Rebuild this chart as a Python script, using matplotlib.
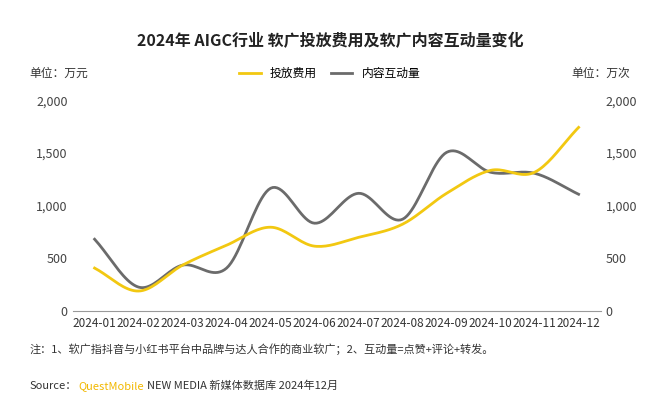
import numpy as np
import matplotlib
matplotlib.use("Agg")
import matplotlib.pyplot as plt

plt.rcParams['font.family'] = ['Noto Sans CJK SC', 'DejaVu Sans']

months = ["2024-01","2024-02","2024-03","2024-04","2024-05","2024-06",
          "2024-07","2024-08","2024-09","2024-10","2024-11","2024-12"]
spend = [408, 190, 436, 625, 796, 616, 700, 825, 1118, 1336, 1318, 1744]
interact = [682, 227, 436, 408, 1166, 834, 1118, 872, 1507, 1318, 1308, 1109]

def smooth(y, n=20):
    y = np.asarray(y, float)
    x = np.arange(len(y))
    m = np.gradient(y)
    xs, ys = [], []
    for i in range(len(y) - 1):
        t = np.linspace(0, 1, n, endpoint=False)
        h00 = 2*t**3 - 3*t**2 + 1; h10 = t**3 - 2*t**2 + t
        h01 = -2*t**3 + 3*t**2; h11 = t**3 - t**2
        xs.append(x[i] + t)
        ys.append(h00*y[i] + h10*m[i] + h01*y[i+1] + h11*m[i+1])
    xs.append([x[-1]]); ys.append([y[-1]])
    return np.concatenate(xs), np.concatenate(ys)

fig = plt.figure(figsize=(6.6, 4.05), dpi=100)
ax = fig.add_axes([0.11, 0.232, 0.80, 0.52])
ax2 = ax.twinx()
x1, y1 = smooth(spend)
x2, y2 = smooth(interact)
ax.plot(x2, y2, color='#6b6b6b', lw=2, label='内容互动量')
ax.plot(x1, y1, color='#f2c811', lw=2, label='投放费用')
for a in (ax, ax2):
    a.set_ylim(0, 2000)
    a.set_yticks([0, 500, 1000, 1500, 2000])
    a.set_yticklabels(['0', '500', '1,000', '1,500', '2,000'], fontsize=9, color='#444')
    a.tick_params(length=0)
    for s in a.spines.values():
        s.set_visible(False)
ax.spines['bottom'].set_visible(True); ax.spines['bottom'].set_color('#999')
ax.set_xlim(-0.5, 11.5)
ax.set_xticks(range(12)); ax.set_xticklabels(months, fontsize=8.5, color='#333')
ax.tick_params(axis='x', pad=4)

fig.text(0.5, 0.885, '2024年 AIGC行业 软广投放费用及软广内容互动量变化', ha='center', fontsize=11.5, weight='bold', color='#222')
fig.text(0.045, 0.81, '单位：万元', fontsize=8.5, color='#333')
fig.text(0.955, 0.81, '单位：万次', fontsize=8.5, color='#333', ha='right')
from matplotlib.lines import Line2D
h = [Line2D([], [], color='#f2c811', lw=2), Line2D([], [], color='#6b6b6b', lw=2)]
fig.legend(h, ['投放费用', '内容互动量'], loc='center', bbox_to_anchor=(0.5, 0.818), ncol=2,
           frameon=False, fontsize=8.5, handlelength=1.8, columnspacing=1.2)
fig.text(0.045, 0.128, '注：1、软广指抖音与小红书平台中品牌与达人合作的商业软广；2、互动量=点赞+评论+转发。', fontsize=8, color='#333')
fig.text(0.045, 0.04, 'Source：', fontsize=8, color='#333')
fig.text(0.118, 0.04, 'QuestMobile', fontsize=8, color='#f2b800')
fig.text(0.223, 0.04, 'NEW MEDIA 新媒体数据库 2024年12月', fontsize=8, color='#333')
fig.savefig('out.png', dpi=100)
